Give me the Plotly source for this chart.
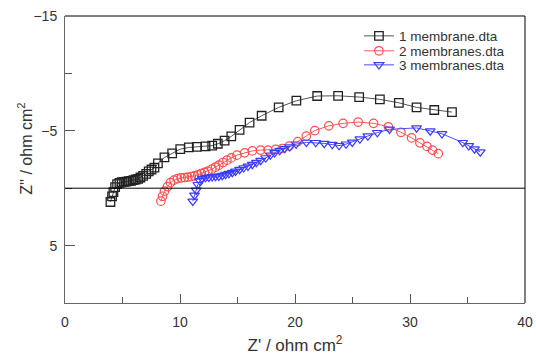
import plotly.graph_objects as go

# Series 1: 1 membrane
x1 = [3.95, 4.09, 4.21, 4.36, 4.53, 4.73, 4.93, 5.14, 5.34, 5.54, 5.75, 5.95, 6.15, 6.36, 6.56, 6.79,
      7.06, 7.28, 7.52, 7.78, 8.08, 8.65, 9.32, 10.02, 10.77, 11.46, 12.22, 12.80, 13.29, 13.88, 14.46,
      15.18, 16.05, 17.10, 18.58, 20.12, 21.93, 23.75, 25.58, 27.38, 29.03, 30.57, 32.11, 33.65]
y1 = [1.20, 0.72, 0.35, -0.09, -0.35, -0.46, -0.52, -0.55, -0.58, -0.61, -0.64, -0.70, -0.76, -0.81,
      -0.93, -1.07, -1.25, -1.46, -1.63, -1.79, -2.16, -2.68, -3.03, -3.40, -3.55, -3.60, -3.64, -3.71,
      -3.87, -4.14, -4.51, -5.08, -5.72, -6.31, -7.04, -7.62, -8.03, -8.05, -7.94, -7.74, -7.44, -7.04,
      -6.81, -6.63]

# Series 2: 2 membranes
x2 = [8.34, 8.48, 8.65, 8.91, 9.17, 9.48, 9.78, 10.10, 10.39, 10.68, 10.98, 11.26, 11.55, 11.85, 12.13,
      12.42, 12.77, 13.09, 13.38, 13.73, 14.08, 14.46, 14.95, 15.62, 16.29, 17.01, 17.65, 18.32, 18.90,
      19.49, 20.24, 20.98, 21.72, 22.94, 24.18, 25.49, 26.83, 28.12, 29.21, 30.14, 30.86, 31.47, 31.95,
      32.46]
y2 = [1.13, 0.70, 0.26, -0.13, -0.48, -0.70, -0.83, -0.90, -0.93, -0.96, -1.02, -1.07, -1.16, -1.28,
      -1.37, -1.48, -1.66, -1.83, -2.01, -2.24, -2.44, -2.64, -2.88, -3.08, -3.25, -3.32, -3.32, -3.38,
      -3.46, -3.66, -4.06, -4.54, -5.02, -5.43, -5.65, -5.76, -5.65, -5.35, -4.87, -4.38, -3.95, -3.64,
      -3.32, -3.01]

# Series 3: 3 membranes
x3 = [11.11, 11.26, 11.41, 11.55, 11.72, 11.93, 12.22, 12.51, 12.80, 13.09, 13.38, 13.68, 13.96, 14.25,
      14.55, 14.83, 15.18, 15.53, 15.91, 16.29, 16.64, 17.01, 17.45, 17.86, 18.23, 18.67, 19.10, 19.54,
      20.10, 20.99, 21.80, 22.54, 23.24, 23.83, 24.44, 24.98, 25.64, 26.33, 27.16, 28.22, 30.57, 31.76,
      32.78, 34.59, 35.11, 35.61, 36.11]
y3 = [1.13, 0.61, 0.17, -0.31, -0.64, -0.83, -0.93, -0.96, -0.99, -1.02, -1.05, -1.11, -1.20, -1.28,
      -1.37, -1.48, -1.63, -1.77, -1.92, -2.07, -2.24, -2.42, -2.64, -2.88, -3.08, -3.29, -3.46, -3.60,
      -3.84, -3.99, -3.97, -3.90, -3.80, -3.71, -3.84, -4.01, -4.28, -4.54, -4.84, -5.13, -5.25, -4.99,
      -4.74, -3.97, -3.69, -3.42, -3.16]

names = ["1 membrane.dta", "2 membranes.dta", "3 membranes.dta"]
x_title = "Z' / ohm cm<sup>2</sup>"
y_title = "Z'' / ohm cm<sup>2</sup>"

FONT = "Liberation Sans, Arial, sans-serif"

fig = go.Figure()
fig.add_trace(go.Scatter(x=x1, y=y1, mode="lines+markers", name=names[0], legend="legend",
                         line=dict(color="#555555", width=1),
                         marker=dict(symbol="square-open", size=8.5, color="#222222",
                                     line=dict(width=1.3))))
fig.add_trace(go.Scatter(x=x2, y=y2, mode="lines+markers", name=names[1], legend="legend2",
                         line=dict(color="#ff5a5a", width=1),
                         marker=dict(symbol="circle-open", size=8.5, color="#ff4d4d",
                                     line=dict(width=1.2))))
fig.add_trace(go.Scatter(x=x3, y=y3, mode="lines+markers", name=names[2], legend="legend3",
                         line=dict(color="#4d4dff", width=1),
                         marker=dict(symbol="triangle-down-open", size=8.5, color="#3c3cff",
                                     line=dict(width=1.2))))

# zero line
fig.add_shape(type="line", xref="paper", yref="y", x0=0, x1=1, y0=0, y1=0,
              line=dict(color="#000000", width=1))
# top and right frame
fig.add_shape(type="line", xref="paper", yref="paper", x0=0, x1=1, y0=1, y1=1,
              line=dict(color="#000000", width=1))
fig.add_shape(type="line", xref="paper", yref="paper", x0=1, x1=1, y0=0, y1=1,
              line=dict(color="#000000", width=1))

# y-axis title (rotated text, slightly above axis centre as in reference)
fig.add_annotation(text=y_title, xref="paper", yref="paper", x=-0.087, y=0.537,
                   xanchor="center", yanchor="middle", textangle=-90, showarrow=False,
                   font=dict(family=FONT, size=16, color="#333333"))

leg_common = dict(xanchor="left", yanchor="middle", bgcolor="rgba(0,0,0,0)",
                  font=dict(family=FONT, size=13.5, color="#333333"), itemwidth=30,
                  borderwidth=0)

fig.update_layout(
    width=536, height=356,
    margin=dict(l=65, r=11, t=16, b=53, autoexpand=False),
    paper_bgcolor="white", plot_bgcolor="white",
    font=dict(family=FONT, size=14, color="#333333"),
    showlegend=True,
    legend=dict(x=0.639, y=0.930, **leg_common),
    legend2=dict(x=0.639, y=0.878, **leg_common),
    legend3=dict(x=0.639, y=0.829, **leg_common),
    xaxis=dict(range=[0, 40], tick0=0, dtick=10, ticks="inside", ticklen=9,
               tickcolor="#555555", showgrid=False, zeroline=False, automargin=False,
               showline=True, linecolor="#666666", linewidth=1, ticklabelstandoff=6,
               minor=dict(dtick=5, ticks="inside", ticklen=6, tickcolor="#555555"),
               title=dict(text=x_title, font=dict(size=17, color="#333333"),
                          standoff=10)),
    yaxis=dict(range=[10, -15], tick0=-15, dtick=10, ticks="inside", ticklen=10,
               tickcolor="#555555", showgrid=False, zeroline=False, automargin=False,
               showline=True, linecolor="#666666", linewidth=1, ticklabelstandoff=4,
               minor=dict(dtick=5, tick0=-15, ticks="inside", ticklen=7, tickcolor="#555555")),
)

fig.write_html("out.html")
